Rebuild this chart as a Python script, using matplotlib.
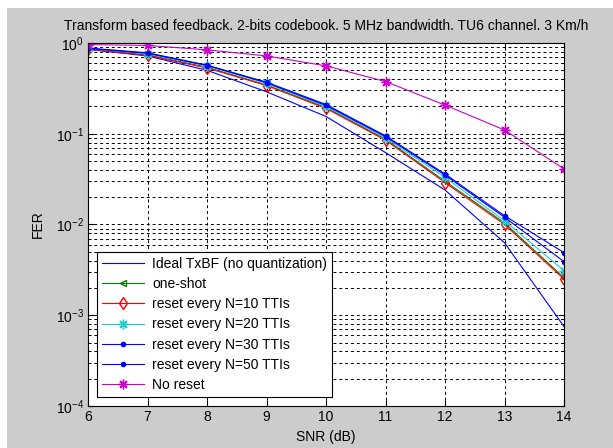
import matplotlib
matplotlib.use("Agg")
import matplotlib.pyplot as plt
from matplotlib.patches import Rectangle
from matplotlib.ticker import LogLocator, NullFormatter

snr = [6, 7, 8, 9, 10, 11, 12, 13, 14]
ideal = [0.85, 0.72, 0.50, 0.29, 0.155, 0.062, 0.024, 0.0063, 0.00075]
one_shot = [0.86, 0.74, 0.54, 0.345, 0.195, 0.087, 0.030, 0.0104, 0.0026]
reset10 = [0.85, 0.73, 0.53, 0.34, 0.19, 0.085, 0.029, 0.0100, 0.0025]
reset20 = [0.87, 0.76, 0.56, 0.36, 0.20, 0.090, 0.033, 0.0110, 0.0031]
reset30 = [0.87, 0.77, 0.565, 0.365, 0.205, 0.093, 0.035, 0.0120, 0.0039]
reset50 = [0.88, 0.78, 0.57, 0.37, 0.21, 0.095, 0.036, 0.0125, 0.0049]
no_reset = [0.96, 0.94, 0.84, 0.72, 0.56, 0.376, 0.207, 0.11, 0.041]

labels = ["Ideal TxBF (no quantization)", "one-shot", "reset every N=10 TTIs",
          "reset every N=20 TTIs", "reset every N=30 TTIs", "reset every N=50 TTIs",
          "No reset"]
title = "Transform based feedback. 2-bits codebook. 5 MHz bandwidth. TU6 channel. 3 Km/h"

plt.rcParams['font.family'] = ['Liberation Sans', 'DejaVu Sans']
W, H = 613, 448
fig = plt.figure(figsize=(W / 100, H / 100), dpi=100, facecolor='white')
fig.patches.append(Rectangle((7 / W, 0), 1, 1 - 8 / H, transform=fig.transFigure,
                             facecolor='#cccccc', edgecolor='none', zorder=-10))
ax = fig.add_axes([88 / W, 1 - 406 / H, (564 - 88) / W, (406 - 43) / H])
ax.set_facecolor('white')

lw = 0.8
ast = (8, 2, 0)
ax.semilogy(snr, ideal, color='#0000ff', lw=lw, label=labels[0])
ax.semilogy(snr, one_shot, color='#008000', lw=lw, marker='<', ms=5, mfc='none', label=labels[1])
ax.semilogy(snr, reset10, color='#ff0000', lw=lw, marker='d', ms=6, mfc='none', label=labels[2])
ax.semilogy(snr, reset20, color='#22cccc', lw=lw, marker=ast, ms=7, label=labels[3])
ax.semilogy(snr, reset30, color='#0000ff', lw=lw, marker='.', ms=6, label=labels[4])
ax.semilogy(snr, reset50, color='#0000ff', lw=lw, marker='.', ms=6, label=labels[5])
ax.semilogy(snr, no_reset, color='#cc00cc', lw=lw, marker=ast, ms=7, label=labels[6])

ax.set_xlim(6, 14)
ax.set_ylim(1e-4, 1)
ax.set_xticks(snr)
ax.yaxis.set_major_locator(LogLocator(base=10, numticks=10))
ax.yaxis.set_minor_locator(LogLocator(base=10, subs=range(2, 10), numticks=100))
ax.yaxis.set_minor_formatter(NullFormatter())
ax.grid(True, which='major', axis='both', color='black', linestyle=(0, (3, 3)), lw=0.7)
ax.grid(True, which='minor', axis='y', color='black', linestyle=(0, (3, 3)), lw=0.7)
ax.tick_params(which='both', direction='in', top=True, right=True, labelsize=10, pad=3)
ax.tick_params(which='major', length=4)
ax.tick_params(which='minor', length=2)
for s in ax.spines.values():
    s.set_color('black')
    s.set_linewidth(0.8)

ax.set_xlabel("SNR (dB)", fontsize=10, labelpad=4)
ax.set_ylabel("FER", fontsize=10, labelpad=8)
ax.set_title(title, fontsize=10, pad=9)

leg = ax.legend(loc='lower left', fontsize=10, fancybox=False, framealpha=1,
                edgecolor='black', borderaxespad=0.65, handlelength=3.0,
                labelspacing=0.45, borderpad=0.35, handletextpad=0.6)
leg.get_frame().set_linewidth(0.8)

fig.savefig("out.png", dpi=100, facecolor=fig.get_facecolor())
